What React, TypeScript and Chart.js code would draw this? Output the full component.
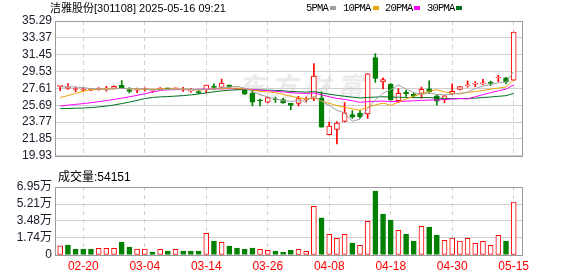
import React, { useEffect, useRef } from 'react';
import { Chart, registerables } from 'chart.js';

Chart.register(...registerables);

// ---- data ----
const openP = [27.84, 27.62, 27.48, 27.40, 27.42, 27.50, 27.52, 27.62, 27.96, 27.47,
  27.42, 27.48, 27.32, 27.50, 27.60, 27.56, 27.43, 27.32, 27.17, 27.43,
  27.77, 27.72, 28.00, 27.58, 27.47, 27.08, 26.22, 26.04, 26.36, 26.33,
  25.90, 25.90, 26.36, 26.40, 26.51, 22.35, 22.95, 23.84, 24.62, 24.80,
  24.70, 31.13, 28.36, 28.11, 26.22, 27.15, 26.94, 27.04, 27.55, 26.76,
  26.33, 26.97, 27.50, 27.90, 28.10, 28.12, 28.20, 28.80, 28.82, 28.54];
const highP = [27.90, 28.15, 27.72, 27.70, 27.55, 27.70, 27.85, 27.90, 28.50, 27.70,
  27.65, 27.68, 27.48, 27.70, 27.66, 27.66, 27.72, 27.60, 27.35, 28.00,
  28.14, 28.68, 28.02, 27.62, 27.50, 27.40, 26.40, 26.58, 26.60, 26.50,
  25.92, 26.70, 26.62, 30.45, 27.22, 23.77, 23.84, 25.98, 25.08, 25.10,
  29.30, 31.59, 28.82, 28.15, 27.58, 27.40, 27.10, 27.75, 28.46, 26.86,
  26.80, 28.12, 27.85, 28.46, 28.40, 28.64, 28.45, 29.10, 28.86, 34.03];
const lowP = [27.35, 27.50, 27.24, 27.28, 27.36, 27.40, 27.30, 27.55, 27.58, 27.10,
  27.11, 27.30, 27.15, 27.42, 27.52, 27.48, 27.28, 27.18, 27.00, 27.11,
  27.43, 27.65, 27.72, 27.50, 26.90, 25.62, 25.62, 25.95, 26.00, 25.90,
  25.19, 25.62, 26.04, 26.20, 23.15, 22.30, 21.28, 23.80, 24.20, 24.20,
  24.20, 28.28, 27.55, 26.25, 25.98, 26.70, 26.60, 26.51, 27.04, 25.69,
  25.98, 26.90, 27.45, 27.75, 27.82, 28.04, 27.95, 28.39, 28.11, 28.50];
const closeP = [27.86, 27.68, 27.52, 27.46, 27.44, 27.54, 27.56, 27.86, 27.64, 27.26,
  27.45, 27.52, 27.34, 27.64, 27.56, 27.60, 27.45, 27.34, 27.13, 28.00,
  27.73, 28.22, 27.75, 27.52, 26.97, 26.04, 26.18, 26.55, 26.32, 25.98,
  25.66, 26.44, 26.46, 29.00, 23.20, 23.31, 23.66, 24.84, 24.33, 24.38,
  29.28, 28.75, 28.62, 26.33, 27.04, 26.97, 26.76, 27.50, 27.22, 26.15,
  26.76, 27.29, 27.82, 27.94, 28.14, 28.16, 28.18, 28.84, 28.36, 34.03];
const volume = [9500, 10200, 6100, 6100, 6100, 6800, 6800, 6800, 13000, 8200,
  6100, 6100, 3100, 5800, 4100, 5800, 4100, 4100, 4100, 22200,
  14300, 13000, 9200, 7200, 6100, 7200, 5800, 4800, 4100, 2700,
  4800, 5800, 3700, 49700, 38100, 21100, 17000, 21100, 12300, 9900,
  34400, 65400, 41900, 35800, 25200, 21500, 14300, 29300, 28600, 20400,
  15000, 17400, 14300, 17000, 12000, 14000, 9900, 20100, 14300, 54151];
const ma5 = [27.78, 27.80, 27.78, 27.70, 27.59, 27.53, 27.50, 27.57, 27.61, 27.57,
  27.55, 27.55, 27.44, 27.44, 27.50, 27.53, 27.52, 27.52, 27.42, 27.50,
  27.53, 27.68, 27.77, 27.84, 27.64, 27.30, 26.89, 26.65, 26.41, 26.21,
  26.14, 26.19, 26.17, 26.71, 26.15, 25.67, 25.12, 24.80, 23.87, 24.10,
  25.30, 26.32, 27.07, 27.47, 28.00, 27.54, 27.14, 26.92, 27.10, 26.92,
  26.88, 26.98, 27.05, 27.19, 27.59, 27.87, 28.05, 28.25, 28.34, 29.51];
const ma10 = [26.58, 26.79, 27.04, 27.29, 27.47, 27.52, 27.55, 27.58, 27.60, 27.58,
  27.54, 27.53, 27.51, 27.53, 27.54, 27.54, 27.53, 27.48, 27.43, 27.50,
  27.53, 27.60, 27.64, 27.63, 27.57, 27.42, 27.29, 27.21, 27.13, 26.93,
  26.72, 26.54, 26.41, 26.56, 26.18, 25.91, 25.65, 25.48, 25.28, 25.12,
  25.49, 25.72, 25.94, 25.67, 26.05, 26.42, 26.73, 27.00, 27.29, 27.46,
  27.21, 27.06, 26.98, 27.15, 27.26, 27.38, 27.52, 27.65, 27.77, 28.56];
const ma20 = [25.62, 25.70, 25.79, 25.88, 25.98, 26.10, 26.22, 26.35, 26.50, 26.66,
  26.82, 27.00, 27.20, 27.38, 27.45, 27.47, 27.48, 27.49, 27.50, 27.54,
  27.54, 27.56, 27.57, 27.58, 27.55, 27.48, 27.41, 27.34, 27.28, 27.21,
  27.13, 27.07, 27.03, 27.09, 26.88, 26.66, 26.47, 26.35, 26.21, 26.03,
  26.10, 26.13, 26.17, 26.11, 26.12, 26.16, 26.19, 26.24, 26.28, 26.29,
  26.35, 26.39, 26.46, 26.41, 26.66, 26.90, 27.13, 27.33, 27.53, 28.01];
const ma30 = [25.30, 25.32, 25.35, 25.38, 25.42, 25.50, 25.60, 25.72, 25.88, 26.05,
  26.25, 26.45, 26.58, 26.64, 26.68, 26.73, 26.79, 26.87, 26.97, 27.10,
  27.22, 27.33, 27.40, 27.45, 27.46, 27.45, 27.43, 27.41, 27.38, 27.34,
  27.26, 27.22, 27.19, 27.24, 27.10, 26.95, 26.82, 26.72, 26.61, 26.52,
  26.58, 26.62, 26.66, 26.62, 26.60, 26.58, 26.56, 26.56, 26.57, 26.50,
  26.47, 26.44, 26.44, 26.46, 26.50, 26.57, 26.63, 26.71, 26.78, 27.05];
const dateIdx = [3, 11, 19, 27, 35, 43, 51, 59];
const dateLabels = ['02-20', '03-04', '03-14', '03-26', '04-08', '04-18', '04-30', '05-15'];
const priceTicks = [19.93, 21.85, 23.77, 25.69, 27.61, 29.53, 31.45, 33.37, 35.29];
const volTicks = [0, 17400, 34800, 52100, 69500];
const volTickLabels = ['0', '1.74万', '3.48万', '5.21万', '6.95万'];
const maNames = ['5PMA', '10PMA', '20PMA', '30PMA'];

// ---- styles ----
const RED = '#ff0000';
const GREEN = '#008000';
const MA_COLORS = ['#a0a0a0', '#f0a30a', '#ff00ff', '#007020'];
const FONT = "'Liberation Sans', 'Noto Sans CJK SC', Arial, sans-serif";
const GRID = '#cfcfcf';

const framePlugin = {
  id: 'frame',
  afterDraw(chart: any) {
    const { ctx, chartArea: a } = chart;
    ctx.save();
    ctx.strokeStyle = '#9a9a9a';
    ctx.lineWidth = 1;
    ctx.strokeRect(Math.round(a.left) + 0.5, Math.round(a.top) + 0.5,
      Math.round(a.right - a.left), Math.round(a.bottom - a.top));
    ctx.restore();
  },
};

const xScale = (showLabels: boolean) => ({
  type: 'linear',
  min: -0.68,
  max: 60.08,
  offset: false,
  afterBuildTicks: (s: any) => { s.ticks = dateIdx.map((v) => ({ value: v })); },
  afterFit: (s: any) => { s.height = showLabels ? 21 : 0; },
  grid: { color: GRID, drawTicks: false, offset: false },
  border: { display: false, dash: [4, 4] },
  ticks: {
    display: showLabels,
    autoSkip: false,
    maxRotation: 0,
    padding: 4,
    color: RED,
    font: { family: FONT, size: 12 },
    callback: (_v: any, i: number) => dateLabels[i],
  },
});

export default function App() {
  const priceRef = useRef<HTMLCanvasElement>(null);
  const volRef = useRef<HTMLCanvasElement>(null);

  useEffect(() => {
    const up = closeP.map((c, i) => c >= openP[i]);
    const candleColor = up.map((u) => (u ? RED : GREEN));
    const bodyFill = up.map((u) => (u ? '#ffffff' : GREEN));
    const volUp = closeP.map((c, i) => i === 0 || c >= closeP[i - 1]);
    const mas = [ma5, ma10, ma20, ma30];

    const priceChart = new Chart(priceRef.current as HTMLCanvasElement, {
      type: 'bar',
      data: {
        datasets: [
          ...mas.map((m, k) => ({
            type: 'line',
            label: maNames[k],
            data: m.map((v, i) => ({ x: i, y: v })),
            borderColor: MA_COLORS[k],
            borderWidth: 1,
            pointRadius: 0,
            tension: 0,
            order: 0,
          })),
          {
            type: 'bar',
            label: 'body',
            data: openP.map((o, i) => ({ x: i, y: [o, closeP[i]] })),
            backgroundColor: bodyFill,
            borderColor: candleColor,
            borderWidth: 1,
            borderSkipped: false,
            barThickness: 5,
            minBarLength: 1,
            grouped: false,
            order: 1,
          },
          {
            type: 'bar',
            label: 'wick',
            data: lowP.map((l, i) => ({ x: i, y: [l, highP[i]] })),
            backgroundColor: candleColor,
            borderWidth: 0,
            barThickness: 1,
            grouped: false,
            order: 2,
          },
        ],
      },
      options: {
        responsive: false,
        animation: false,
        events: [],
        layout: { padding: { left: 0, right: 56, top: 21, bottom: 1 } },
        plugins: { legend: { display: false }, tooltip: { enabled: false } },
        scales: {
          x: xScale(false),
          y: {
            min: 19.93,
            max: 35.29,
            afterBuildTicks: (s: any) => { s.ticks = priceTicks.map((v) => ({ value: v })); },
            afterFit: (s: any) => { s.width = 55; },
            grid: { color: GRID, drawTicks: false },
            border: { display: false },
            ticks: {
              autoSkip: false,
              padding: 3,
              color: '#1a1a2a',
              font: { family: FONT, size: 12 },
              callback: (v: any) => Number(v).toFixed(2),
            },
          },
        },
      },
      plugins: [framePlugin],
    } as any);

    const volChart = new Chart(volRef.current as HTMLCanvasElement, {
      type: 'bar',
      data: {
        datasets: [
          {
            label: 'volume',
            data: volume.map((v, i) => ({ x: i, y: v })),
            backgroundColor: volUp.map((u) => (u ? '#ffffff' : GREEN)),
            borderColor: volUp.map((u) => (u ? RED : GREEN)),
            borderWidth: 1,
            borderSkipped: false,
            barThickness: 5,
            grouped: false,
          },
        ],
      },
      options: {
        responsive: false,
        animation: false,
        events: [],
        layout: { padding: { left: 0, right: 56, top: 17, bottom: 0 } },
        plugins: { legend: { display: false }, tooltip: { enabled: false } },
        scales: {
          x: xScale(true),
          y: {
            min: 0,
            max: 69500,
            afterBuildTicks: (s: any) => { s.ticks = volTicks.map((v) => ({ value: v })); },
            afterFit: (s: any) => { s.width = 55; },
            grid: { color: GRID, drawTicks: false },
            border: { display: false },
            ticks: {
              autoSkip: false,
              padding: 3,
              color: '#1a1a2a',
              font: { family: FONT, size: 12 },
              callback: (_v: any, i: number) => volTickLabels[i],
            },
          },
        },
      },
      plugins: [framePlugin],
    } as any);

    return () => {
      priceChart.destroy();
      volChart.destroy();
    };
  }, []);

  const legendLeft = [306, 343, 385, 427];
  const squareLeft = [330, 373, 414, 456];

  return (
    <div style={{ position: 'fixed', left: 0, top: 0, width: 578, height: 276, background: '#fff', overflow: 'hidden' }}>
      <div style={{ position: 'absolute', left: 238, top: 70, fontFamily: "'Noto Sans CJK SC', sans-serif", fontSize: 26, fontWeight: 700, fontStyle: 'italic', letterSpacing: 7, lineHeight: '30px', color: '#ebebeb', whiteSpace: 'nowrap' }}>东方财富</div>
      <canvas ref={priceRef} width={578} height={166} style={{ position: 'absolute', left: 0, top: 0 }} />
      <canvas ref={volRef} width={578} height={106} style={{ position: 'absolute', left: 0, top: 170 }} />
      <div style={{ position: 'absolute', left: 50, top: 1, fontFamily: FONT, fontSize: 11, lineHeight: '14px', color: '#000', whiteSpace: 'nowrap' }}>洁雅股份[301108] 2025-05-16 09:21</div>
      {maNames.map((name, k) => (
        <React.Fragment key={name}>
          <div style={{ position: 'absolute', left: legendLeft[k], top: 1, fontFamily: "'Liberation Mono', monospace", fontSize: 10.5, letterSpacing: -0.8, lineHeight: '14px', color: '#000', whiteSpace: 'nowrap' }}>{name}</div>
          <div style={{ position: 'absolute', left: squareLeft[k], top: 6, width: 6, height: 4, background: MA_COLORS[k] }} />
        </React.Fragment>
      ))}
      <div style={{ position: 'absolute', left: 58, top: 170, fontFamily: FONT, fontSize: 12, lineHeight: '14px', color: '#000', whiteSpace: 'nowrap' }}>成交量:54151</div>
    </div>
  );
}
